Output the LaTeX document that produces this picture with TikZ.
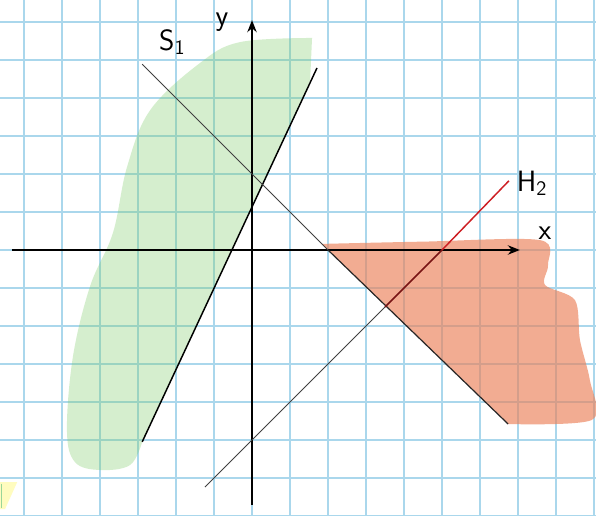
\documentclass[tikz,border=0pt]{standalone}
\usepackage{tikz}
\usetikzlibrary{arrows.meta}

\definecolor{gridblue}{RGB}{170,215,236}
\definecolor{pencilgreen}{RGB}{125,205,105}
\definecolor{pencilorange}{RGB}{236,128,88}
\definecolor{hred}{RGB}{205,30,35}
\definecolor{hdark}{RGB}{120,20,20}

\tikzset{
    hand/.style={font=\sffamily\fontsize{22}{26}\selectfont},
    thinline/.style={draw=black!75, line width=0.6pt},
    boldline/.style={draw=black, line width=1.1pt}
}

\begin{document}
\begin{tikzpicture}[>={Stealth[length=9pt,width=7pt]}]
    \useasboundingbox (-6.632,-7.0) rectangle (9.053,6.579);
    \fill[white] (-6.632,-7.0) rectangle (9.053,6.579);

    % paper grid
    \draw[gridblue, line width=0.9pt] (-6.632,-7.0) grid (9.053,6.579);

    % yellow smudge in the corner
    \fill[yellow!25] (-6.632,-6.11) -- (-6.18,-6.11) -- (-6.5,-6.82) -- (-6.632,-6.82) -- cycle;
    \draw[green!60!black!40, line width=1pt] (-6.6,-6.15) -- (-6.6,-6.8);

    % S_1 shaded in green
    \fill[pencilgreen, opacity=0.32] (1.58,5.58) -- (1.53,4.47) -- (1.42,4.17) -- (-2.89,-5.05)
        -- plot[smooth, tension=0.6] coordinates {(-2.89,-5.05) (-3.21,-5.66) (-4.0,-5.79) (-4.66,-5.58) (-4.87,-4.74)
        (-4.71,-2.79) (-4.26,-0.95) (-3.66,0.45) (-3.29,2.18) (-2.68,3.68) (-1.37,4.92) (-0.32,5.47) (1.58,5.58)}
        -- cycle;

    % H_2 region shaded in orange
    \fill[pencilorange, opacity=0.65] (6.74,-4.58) -- (1.83,0.16)
        -- plot[smooth, tension=0.5] coordinates {(1.83,0.16) (4.5,0.22) (7.58,0.26) (7.79,-0.39) (7.71,-0.92)
        (8.5,-1.32) (8.63,-2.37) (8.89,-3.42) (8.95,-4.47) (6.74,-4.58)}
        -- cycle;

    % axes
    \draw[->, line width=1.4pt] (-6.32,0) -- (7.05,0);
    \draw[->, line width=1.4pt] (0,-6.71) -- (0,6.05);

    % steep boundary of S_1
    \draw[boldline] (-2.89,-5.05) -- (1.71,4.79);

    % falling line through (2,0)
    \draw[thinline] (-2.89,4.89) -- (2,0);
    \draw[line width=0.9pt, black!85] (2,0) -- (6.74,-4.58);

    % H_2
    \draw[thinline] (-1.24,-6.24) -- (3.5,-1.5);
    \draw[hdark, line width=1.3pt] (3.5,-1.5) -- (5,0);
    \draw[hred, line width=1.1pt] (5,0) -- (6.76,1.82);

    % labels
    \node[hand] (ylab) at (-0.79,6.0) {y};
    \node[hand] (slab) at (-2.1,5.47) {S\textsubscript{1}};
    \node[hand] (hlab) at (7.37,1.76) {H\textsubscript{2}};
    \node[hand] (xlab) at (7.71,0.45) {x};
\end{tikzpicture}
\end{document}
